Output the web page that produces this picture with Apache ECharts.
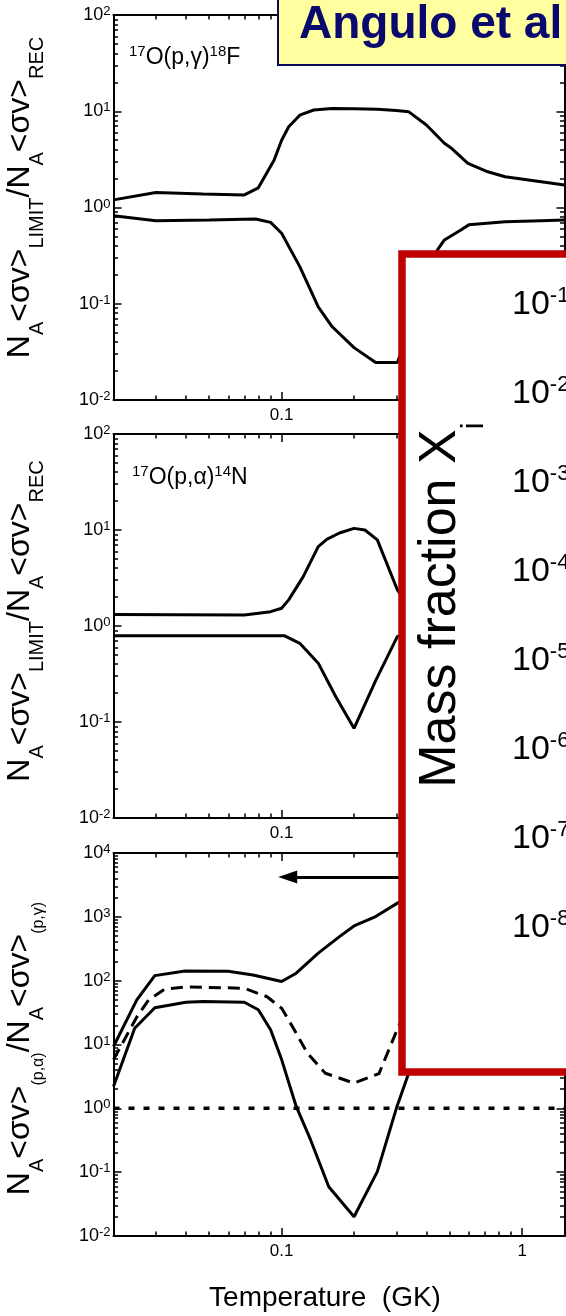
<!DOCTYPE html>
<html><head><meta charset="utf-8">
<script src="https://cdn.jsdelivr.net/npm/echarts@6/dist/echarts.min.js"></script>
<style>html,body{margin:0;padding:0;background:#fff}#c{width:566px;height:1316px}</style>
</head><body><div id="c"></div>
<script>
const FONT = "'Liberation Sans', Arial, Helvetica, sans-serif";
const NARROW = "'Liberation Sans Narrow', 'Arial Narrow', 'Liberation Sans', Arial, sans-serif";

// ---- temperature axis (GK) ----
const tempRange = [0.02, 1.5];
const tempMajorTicks = [0.1, 1];
const tempMinorTicks = [0.03, 0.04, 0.05, 0.06, 0.07, 0.08, 0.09, 0.2, 0.3, 0.4, 0.5, 0.6, 0.7, 0.8, 0.9];
const tempLabels = [0.1, 1];
const minorMult = [2, 3, 4, 5, 6, 7, 8, 9];

// ---- panel 1 : 17O(p,gamma)18F ----
const p1YRange = [0.01, 100];
const p1YMajor = [0.01, 0.1, 1, 10, 100];
const p1UpperT = [0.02, 0.03, 0.047, 0.07, 0.08, 0.093, 0.1, 0.107, 0.119, 0.136, 0.162, 0.2, 0.25, 0.3, 0.337, 0.4, 0.475, 0.51, 0.595, 0.72, 0.85, 1.2, 1.5];
const p1UpperV = [1.2, 1.43, 1.38, 1.35, 1.6, 3.1, 5.0, 6.9, 9.1, 10.3, 10.7, 10.6, 10.5, 10.2, 9.9, 7.2, 4.65, 4.1, 2.88, 2.35, 2.09, 1.85, 1.71];
const p1LowerT = [0.02, 0.03, 0.05, 0.078, 0.09, 0.1, 0.119, 0.142, 0.162, 0.2, 0.246, 0.303, 0.37, 0.444, 0.475, 0.554, 0.6, 0.85, 1.2, 1.5];
const p1LowerV = [0.82, 0.73, 0.74, 0.76, 0.70, 0.54, 0.243, 0.093, 0.058, 0.035, 0.0245, 0.0245, 0.1, 0.36, 0.46, 0.58, 0.66, 0.71, 0.73, 0.74];

// ---- panel 2 : 17O(p,alpha)14N ----
const p2YRange = [0.01, 100];
const p2YMajor = [0.01, 0.1, 1, 10, 100];
const p2UpperT = [0.02, 0.07, 0.09, 0.1, 0.107, 0.123, 0.142, 0.154, 0.174, 0.2, 0.222, 0.25, 0.303, 0.35];
const p2UpperV = [1.32, 1.30, 1.41, 1.53, 1.87, 3.27, 6.7, 8.0, 9.3, 10.4, 10.0, 7.9, 2.37, 1.4];
const p2LowerT = [0.02, 0.103, 0.119, 0.142, 0.168, 0.2, 0.246, 0.303, 0.35];
const p2LowerV = [0.79, 0.79, 0.66, 0.41, 0.183, 0.086, 0.27, 0.78, 0.85];

// ---- panel 3 : (p,alpha)/(p,gamma) ----
const p3YRange = [0.01, 10000];
const p3YMajor = [0.01, 0.1, 1, 10, 100, 1000, 10000];
const p3UpperT = [0.02, 0.025, 0.0297, 0.0397, 0.06, 0.076, 0.1, 0.115, 0.142, 0.174, 0.2, 0.246, 0.303, 0.35];
const p3UpperV = [9.3, 50, 120, 142, 140, 123, 97, 131, 270, 490, 720, 1010, 1640, 2200];
const p3MidT = [0.02, 0.025, 0.028, 0.0327, 0.04, 0.07, 0.087, 0.1, 0.111, 0.128, 0.152, 0.2, 0.254, 0.3, 0.35];
const p3MidV = [5.8, 27, 50, 74, 80, 76, 56, 37, 19, 7.3, 3.55, 2.48, 3.5, 16, 60];
const p3LowerT = [0.02, 0.0245, 0.0297, 0.04, 0.047, 0.07, 0.08, 0.09, 0.1, 0.115, 0.132, 0.157, 0.2, 0.25, 0.3, 0.336, 0.38];
const p3LowerV = [2.2, 18, 37.6, 46, 47, 46, 35, 17, 5.8, 1.07, 0.32, 0.059, 0.020, 0.102, 1.0, 3.4, 12];
const unityT = [0.02, 1.5];
const unityV = [1, 1];
const arrowFrom = [0.36, 4200];
const arrowTo = [0.106, 4200];

// ---- overlay: mass fraction axis ----
const massTicks = [1e-1, 1e-2, 1e-3, 1e-4, 1e-5, 1e-6, 1e-7, 1e-8];
const massRange = [Math.pow(10, -8.315), Math.pow(10, -0.427)];

const zip = (t, v) => t.map((x, i) => [x, v[i]]);
const pow10Label = v => '{b|10}{s|' + Math.round(Math.log10(v)) + '}';

const grids = [
  {left: 113.5, top: 15, width: 451, height: 385},
  {left: 113.5, top: 434, width: 451, height: 384},
  {left: 113.5, top: 853, width: 451, height: 383},
  {left: 402, top: 254, width: 300, height: 818, show: true, backgroundColor: '#ffffff', borderColor: '#C00000', borderWidth: 7.5, z: 10},
  {left: 402, top: 254, width: 100, height: 702, show: false}
].map(g => Object.assign({containLabel: false, outerBoundsMode: 'none'}, g));

const xAxis = [], yAxis = [];
const black = {color: '#000', width: 2};
const tickStyle = {color: '#000', width: 1.5};

function frameAxes(gi, yRange, yMajor, opt) {
  const yMinor = [];
  yMajor.forEach((m, i) => { if (i < yMajor.length - 1) minorMult.forEach(k => yMinor.push(+(m * k).toPrecision(3))); });
  const xb = {gridIndex: gi, type: 'log', min: tempRange[0], max: tempRange[1], splitLine: {show: false}, nameMoveOverlap: false};
  const yb = {gridIndex: gi, type: 'log', min: yRange[0], max: yRange[1], splitLine: {show: false}, nameMoveOverlap: false};
  const xi = xAxis.length, yi = yAxis.length;
  xAxis.push(Object.assign({}, xb, {position: 'bottom',
    axisLine: {show: true, onZero: false, lineStyle: black},
    axisTick: {show: true, inside: true, length: 8, customValues: tempMajorTicks, lineStyle: tickStyle},
    axisLabel: {show: true, customValues: tempLabels, margin: 7, color: '#000', fontSize: 17, fontFamily: FONT, formatter: v => String(v)}
  }, opt.xName || {}));
  xAxis.push(Object.assign({}, xb, {position: 'bottom', axisLine: {show: false},
    axisTick: {show: true, inside: true, length: 4.5, customValues: tempMinorTicks, lineStyle: tickStyle}, axisLabel: {show: false}}));
  xAxis.push(Object.assign({}, xb, {position: 'top', axisLine: {show: true, onZero: false, lineStyle: black},
    axisTick: {show: true, inside: true, length: 8, customValues: tempMajorTicks, lineStyle: tickStyle}, axisLabel: {show: false}}));
  xAxis.push(Object.assign({}, xb, {position: 'top', axisLine: {show: false},
    axisTick: {show: true, inside: true, length: 4.5, customValues: tempMinorTicks, lineStyle: tickStyle}, axisLabel: {show: false}}));

  yAxis.push(Object.assign({}, yb, {position: 'left',
    axisLine: {show: true, onZero: false, lineStyle: black},
    axisTick: {show: true, inside: true, length: 8, customValues: yMajor, lineStyle: tickStyle},
    axisLabel: {show: true, customValues: yMajor, margin: 3, formatter: pow10Label,
      rich: {b: {fontSize: 18, lineHeight: 20, fontFamily: FONT, color: '#000'},
             s: {fontSize: 13, lineHeight: 13, verticalAlign: 'top', fontFamily: FONT, color: '#000'}}},
    name: opt.yName, nameLocation: 'middle', nameRotate: 90, nameGap: 66.5,
    nameTextStyle: {padding: opt.yNamePad, rich: {
      m: {fontSize: 32, lineHeight: 54, fontFamily: FONT, color: '#000'},
      s: {fontSize: 20, lineHeight: 20, verticalAlign: 'bottom', fontFamily: FONT, color: '#000'},
      t: {fontSize: 16, lineHeight: 16, verticalAlign: 'bottom', fontFamily: FONT, color: '#000'}}}
  }));
  yAxis.push(Object.assign({}, yb, {position: 'left', axisLine: {show: false},
    axisTick: {show: true, inside: true, length: 4.5, customValues: yMinor, lineStyle: tickStyle}, axisLabel: {show: false}}));
  yAxis.push(Object.assign({}, yb, {position: 'right', axisLine: {show: true, onZero: false, lineStyle: black},
    axisTick: {show: true, inside: true, length: 8, customValues: yMajor, lineStyle: tickStyle}, axisLabel: {show: false}}));
  yAxis.push(Object.assign({}, yb, {position: 'right', axisLine: {show: false},
    axisTick: {show: true, inside: true, length: 4.5, customValues: yMinor, lineStyle: tickStyle}, axisLabel: {show: false}}));
  return {xi, yi};
}

const recName = '{m|N}{s|A}{m|<σv>}{s|LIMIT}{m|/N}{s|A}{m|<σv>}{s|REC}';
const a1 = frameAxes(0, p1YRange, p1YMajor, {yName: recName, yNamePad: [0, 0, 0, 20]});
const a2 = frameAxes(1, p2YRange, p2YMajor, {yName: recName, yNamePad: [0, 0, 0, 10]});
const a3 = frameAxes(2, p3YRange, p3YMajor, {
  yName: '{m|N}{s|A}{m|<σv>}{t|(p,α)}{m|/N}{s|A}{m|<σv>}{t|(p,γ)}', yNamePad: [0, 8, 0, 0],
  xName: {name: 'Temperature  (GK)', nameLocation: 'middle', nameGap: 48,
    nameTextStyle: {fontSize: 28, lineHeight: 28, color: '#000', fontFamily: FONT, padding: [0, 28, 0, 0]}}
});

// box grid axes (hidden)
xAxis.push({gridIndex: 3, type: 'value', show: false});
yAxis.push({gridIndex: 3, type: 'value', show: false});
// mass fraction axis
xAxis.push({gridIndex: 4, type: 'value', show: false});
yAxis.push({gridIndex: 4, type: 'log', min: massRange[0], max: massRange[1], position: 'left', z: 12,
  nameMoveOverlap: false,
  axisLine: {show: false}, axisTick: {show: false}, splitLine: {show: false},
  axisLabel: {show: true, inside: true, margin: 110, customValues: massTicks, formatter: pow10Label,
    rich: {b: {fontSize: 34, lineHeight: 40, fontFamily: NARROW, color: '#000'},
           s: {fontSize: 22, lineHeight: 30, verticalAlign: 'top', fontFamily: NARROW, color: '#000'}}},
  name: '{m|Mass fraction X}{s|i}', nameLocation: 'middle', nameRotate: 90, nameGap: -88,
  nameTextStyle: {rich: {m: {fontSize: 52, lineHeight: 98, fontFamily: FONT, color: '#000'},
                         s: {fontSize: 32, lineHeight: 32, verticalAlign: 'bottom', fontFamily: FONT, color: '#000'}}}
});

function line(ax, t, v, extra) {
  return Object.assign({type: 'line', xAxisIndex: ax.xi, yAxisIndex: ax.yi, data: zip(t, v),
    showSymbol: false, symbol: 'none', animation: false, silent: true,
    lineStyle: {color: '#000', width: 3}}, extra || {});
}

const series = [
  line(a1, p1UpperT, p1UpperV),
  line(a1, p1LowerT, p1LowerV),
  line(a2, p2UpperT, p2UpperV),
  line(a2, p2LowerT, p2LowerV),
  line(a3, p3UpperT, p3UpperV),
  line(a3, p3MidT, p3MidV, {lineStyle: {color: '#000', width: 3, type: [12, 7]}}),
  line(a3, p3LowerT, p3LowerV),
  line(a3, unityT, unityV, {lineStyle: {color: '#000', width: 3.5, type: [6, 9]},
    markLine: {silent: true, animation: false, symbol: ['none', 'triangle'], symbolSize: [13, 19],
      lineStyle: {color: '#000', width: 3, type: 'solid'}, label: {show: false},
      data: [[{coord: arrowFrom}, {coord: arrowTo}]]}})
];

const labelRich = {
  m: {fontSize: 23, lineHeight: 28, fontWeight: 'normal', fontFamily: FONT, color: '#000'},
  s: {fontSize: 15, lineHeight: 12, verticalAlign: 'top', fontWeight: 'normal', fontFamily: FONT, color: '#000'}
};
const title = [
  {text: 'Angulo et al', left: 278, top: -10, padding: [12, 40, 17, 21], z: 20,
   backgroundColor: '#FFFF9F', borderColor: '#0A0A5A', borderWidth: 2,
   textStyle: {fontSize: 46, lineHeight: 46, fontWeight: 'bold', color: '#0A0A6E', fontFamily: FONT}},
  {text: '{s|17}{m|O(p,γ)}{s|18}{m|F}', left: 129, top: 44, padding: 0,
   textStyle: {fontWeight: 'normal', rich: labelRich}},
  {text: '{s|17}{m|O(p,α)}{s|14}{m|N}', left: 132, top: 464, padding: 0,
   textStyle: {fontWeight: 'normal', rich: labelRich}}
];

const chart = echarts.init(document.getElementById('c'), null, {renderer: 'canvas'});
chart.setOption({animation: false, backgroundColor: '#ffffff', title, grid: grids, xAxis, yAxis, series});
</script></body></html>
